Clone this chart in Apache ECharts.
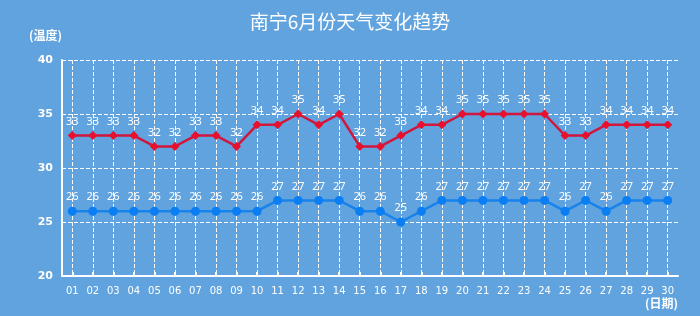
<!DOCTYPE html>
<html><head><meta charset="utf-8">
<script src="https://cdn.jsdelivr.net/npm/echarts@6/dist/echarts.min.js"></script>
<style>html,body{margin:0;padding:0;background:#61a3de;}#c{width:700px;height:316px;}</style>
</head><body><div id="c"></div>
<script>
const days = ['01','02','03','04','05','06','07','08','09','10','11','12','13','14','15','16','17','18','19','20','21','22','23','24','25','26','27','28','29','30'];
const highTemps = [33,33,33,33,32,32,33,33,32,34,34,35,34,35,32,32,33,34,34,35,35,35,35,35,33,33,34,34,34,34];
const lowTemps = [26,26,26,26,26,26,26,26,26,26,27,27,27,27,26,26,25,26,27,27,27,27,27,27,26,27,26,27,27,27];
const yTicks = [20,25,30,35,40];

const chart = echarts.init(document.getElementById('c'), null, {renderer:'canvas'});
const lbl = {show:true, position:'top', color:'#fff', fontSize:11, distance:4, fontFamily:'Noto Sans'};
chart.setOption({
  backgroundColor:'#61a3de',
  animation:false,
  title:{text:'南宁6月份天气变化趋势', left:'center', top:7, textStyle:{color:'#fff', fontSize:19, fontWeight:'normal', fontFamily:'Noto Sans CJK SC'}},
  grid:{left:62, right:22, top:60, bottom:40},
  xAxis:{type:'category', data:days, boundaryGap:true,
    name:'(日期)', nameLocation:'end', nameGap:0,
    nameTextStyle:{color:'#fff', fontWeight:'bold', fontSize:12, align:'right', verticalAlign:'top', padding:[21,0,0,0], fontFamily:'Noto Sans CJK SC'},
    axisLine:{lineStyle:{color:'#fff', width:2}},
    axisTick:{show:true, inside:true, length:4, alignWithLabel:true, lineStyle:{color:'#fff', width:2}},
    axisLabel:{color:'#fff', fontSize:10, margin:10, fontFamily:'DejaVu Sans', interval:0},
    splitLine:{show:true, alignWithLabel:true, interval:0, lineStyle:{color:'#fff', type:'dashed', width:1}}
  },
  yAxis:{type:'value', min:yTicks[0], max:yTicks[yTicks.length-1], interval:5,
    name:'(温度)', nameGap:19,
    nameTextStyle:{color:'#fff', fontWeight:'bold', fontSize:12, align:'right', fontFamily:'Noto Sans CJK SC'},
    axisLine:{show:true, lineStyle:{color:'#fff', width:2}},
    axisTick:{show:false},
    axisLabel:{color:'#fff', fontSize:11, fontWeight:'bold', margin:9, fontFamily:'DejaVu Sans'},
    splitLine:{show:true, lineStyle:{color:'#fff', type:'dashed', width:1}}
  },
  series:[
    {name:'最高气温', type:'line', data:highTemps, symbol:'diamond', symbolSize:9,
      lineStyle:{color:'#d0173d', width:2.5}, itemStyle:{color:'#e8102c'}, label:lbl},
    {name:'最低气温', type:'line', data:lowTemps, symbol:'circle', symbolSize:9,
      lineStyle:{color:'#1883ea', width:2.5}, itemStyle:{color:'#0a7ef2'}, label:lbl}
  ]
});
</script></body></html>
